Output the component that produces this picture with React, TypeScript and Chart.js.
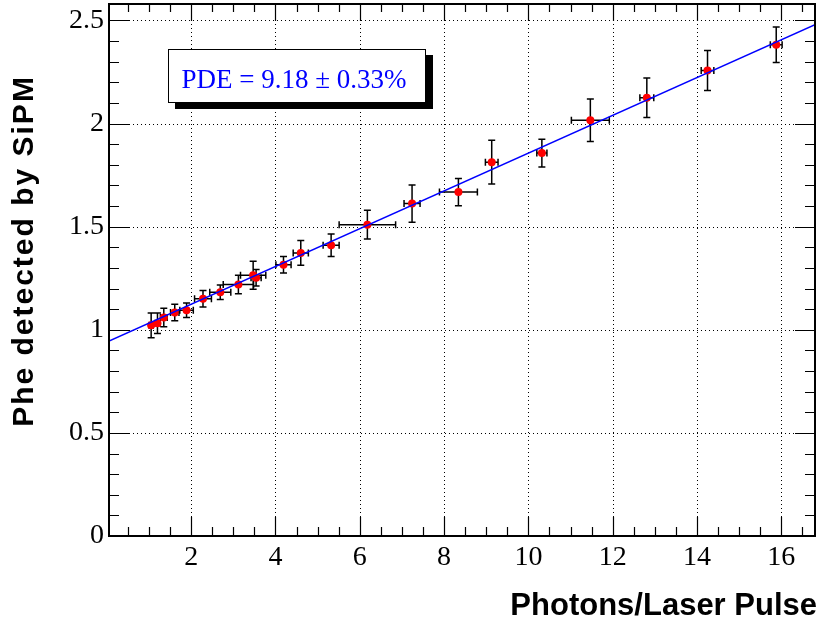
import React, { useEffect, useRef } from 'react';
import { Chart, registerables } from 'chart.js';

Chart.register(...registerables);

// ---- data ----
const photons = [1.05, 1.2, 1.35, 1.61, 1.89, 2.28, 2.69, 3.12, 3.47, 3.54, 4.19, 4.6, 5.32, 6.18, 7.24, 8.34, 9.13, 10.32, 11.47, 12.81, 14.25, 15.88];
const phe = [1.022, 1.032, 1.06, 1.084, 1.095, 1.15, 1.182, 1.22, 1.265, 1.252, 1.316, 1.373, 1.41, 1.51, 1.612, 1.668, 1.813, 1.857, 2.016, 2.125, 2.258, 2.382];
const photonsErr = [0.05, 0.06, 0.08, 0.1, 0.16, 0.2, 0.25, 0.36, 0.3, 0.12, 0.18, 0.18, 0.19, 0.67, 0.19, 0.45, 0.15, 0.12, 0.45, 0.165, 0.15, 0.14];
const pheErr = [0.06, 0.05, 0.045, 0.04, 0.035, 0.04, 0.035, 0.045, 0.068, 0.04, 0.04, 0.06, 0.055, 0.07, 0.09, 0.066, 0.106, 0.067, 0.103, 0.096, 0.097, 0.086];

const fitX = [0.05, 16.8];
const fitY = [0.945, 2.48];

const xMin = 0.05;
const xMax = 16.8;
const yMin = 0;
const yMax = 2.58;

const xMajorTicks = [2, 4, 6, 8, 10, 12, 14, 16];
const yMajorTicks = [0, 0.5, 1, 1.5, 2, 2.5];

const pdeLabel = 'PDE = 9.18 \u00B1 0.33%';
const xTitle = 'Photons/Laser Pulse';
const yTitle = 'Phe detected by SiPM';

// minor tick positions (0.5 on x, 0.1 on y)
const xMinorTicks: number[] = [];
for (let i = 1; i <= 33; i++) xMinorTicks.push(i / 2);
const yMinorTicks: number[] = [];
for (let i = 0; i <= 25; i++) yMinorTicks.push(i / 10);

const isMajor = (list: number[], v: number) => list.some((m) => Math.abs(m - v) < 1e-6);

const rootStyle = {
  id: 'rootStyle',
  beforeDatasetsDraw(chart: any) {
    const { ctx, chartArea: a, scales } = chart;
    const x = scales.x;
    const y = scales.y;
    ctx.save();
    // dotted grid
    ctx.strokeStyle = '#000';
    ctx.lineWidth = 1;
    ctx.setLineDash([1, 3]);
    ctx.beginPath();
    for (const v of xMajorTicks) {
      const px = Math.round(x.getPixelForValue(v)) + 0.5;
      ctx.moveTo(px, a.top);
      ctx.lineTo(px, a.bottom);
    }
    for (const v of yMajorTicks) {
      if (v === 0) continue;
      const py = Math.round(y.getPixelForValue(v)) + 0.5;
      ctx.moveTo(a.left, py);
      ctx.lineTo(a.right, py);
    }
    ctx.stroke();
    ctx.setLineDash([]);

    // error bars
    ctx.strokeStyle = '#000';
    ctx.lineWidth = 1.5;
    const cap = 3.5;
    ctx.beginPath();
    photons.forEach((xv, i) => {
      const cx = x.getPixelForValue(xv);
      const cy = y.getPixelForValue(phe[i]);
      const x0 = x.getPixelForValue(xv - photonsErr[i]);
      const x1 = x.getPixelForValue(xv + photonsErr[i]);
      const y0 = y.getPixelForValue(phe[i] - pheErr[i]);
      const y1 = y.getPixelForValue(phe[i] + pheErr[i]);
      ctx.moveTo(x0, cy);
      ctx.lineTo(x1, cy);
      ctx.moveTo(cx, y0);
      ctx.lineTo(cx, y1);
      ctx.moveTo(x0, cy - cap);
      ctx.lineTo(x0, cy + cap);
      ctx.moveTo(x1, cy - cap);
      ctx.lineTo(x1, cy + cap);
      ctx.moveTo(cx - cap, y0);
      ctx.lineTo(cx + cap, y0);
      ctx.moveTo(cx - cap, y1);
      ctx.lineTo(cx + cap, y1);
    });
    ctx.stroke();
    ctx.restore();
  },
  afterDatasetsDraw(chart: any) {
    const { ctx, chartArea: a, scales } = chart;
    const x = scales.x;
    const y = scales.y;
    ctx.save();
    ctx.strokeStyle = '#000';
    ctx.lineWidth = 1.2;
    ctx.beginPath();
    for (const v of xMinorTicks) {
      if (v < xMin || v > xMax) continue;
      const px = Math.round(x.getPixelForValue(v)) + 0.5;
      const major = isMajor(xMajorTicks, v);
      const lb = major ? 19 : 9;
      const lt = major ? 17 : 8;
      ctx.moveTo(px, a.bottom);
      ctx.lineTo(px, a.bottom - lb);
      ctx.moveTo(px, a.top);
      ctx.lineTo(px, a.top + lt);
    }
    for (const v of yMinorTicks) {
      const py = Math.round(y.getPixelForValue(v)) + 0.5;
      const major = isMajor(yMajorTicks, v);
      const len = major ? 20 : 10;
      ctx.moveTo(a.left, py);
      ctx.lineTo(a.left + len, py);
      ctx.moveTo(a.right, py);
      ctx.lineTo(a.right - len, py);
    }
    ctx.stroke();
    // frame
    ctx.lineWidth = 2;
    ctx.strokeRect(a.left, a.top, a.right - a.left, a.bottom - a.top);
    ctx.restore();
  },
  afterDraw(chart: any) {
    const { ctx } = chart;
    ctx.save();
    ctx.fillStyle = '#000';
    // x title
    ctx.font = 'bold 31px "Liberation Sans", Arial, sans-serif';
    ctx.textAlign = 'right';
    ctx.textBaseline = 'alphabetic';
    ctx.fillText(xTitle, 817, 615);
    // y title
    ctx.translate(33, 251);
    ctx.rotate(-Math.PI / 2);
    ctx.font = 'bold 30px "Liberation Sans", Arial, sans-serif';
    try {
      (ctx as any).letterSpacing = '2px';
    } catch (e) {}
    ctx.textAlign = 'center';
    ctx.fillText(yTitle, 0, 0);
    ctx.restore();
  },
};

export default function App() {
  const canvasRef = useRef<HTMLCanvasElement | null>(null);

  useEffect(() => {
    const canvas = canvasRef.current;
    if (!canvas) return;
    const chart = new Chart(canvas, {
      data: {
        datasets: [
          {
            type: 'line',
            label: 'fit',
            data: fitX.map((v, i) => ({ x: v, y: fitY[i] })),
            borderColor: '#0000ff',
            borderWidth: 1.5,
            pointRadius: 0,
            fill: false,
            order: 0,
          } as any,
          {
            type: 'scatter',
            label: 'data',
            data: photons.map((v, i) => ({ x: v, y: phe[i] })),
            backgroundColor: '#ff0000',
            borderColor: '#ff0000',
            borderWidth: 0,
            pointRadius: 4,
            order: 1,
          } as any,
        ],
      },
      options: {
        animation: false,
        responsive: true,
        maintainAspectRatio: false,
        events: [],
        layout: { padding: { top: 3, right: 0, left: 0, bottom: 0 } },
        plugins: {
          legend: { display: false },
          tooltip: { enabled: false },
        },
        scales: {
          x: {
            type: 'linear',
            position: 'bottom',
            min: xMin,
            max: xMax,
            afterBuildTicks: (s: any) => {
              s.ticks = xMinorTicks.filter((v) => v >= xMin && v <= xMax).map((v) => ({ value: v }));
            },
            afterFit: (s: any) => {
              s.height = 90;
              s.paddingLeft = 0;
              s.paddingRight = 0;
            },
            ticks: {
              autoSkip: false,
              maxRotation: 0,
              minRotation: 0,
              padding: 5,
              color: '#000',
              font: { family: '"Liberation Serif", "Times New Roman", serif', size: 28 },
              callback: (v: any) => (isMajor(xMajorTicks, Number(v)) ? String(v) : ''),
            },
            grid: { display: false, drawTicks: false },
            border: { display: false },
          },
          y: {
            type: 'linear',
            position: 'left',
            min: yMin,
            max: yMax,
            afterBuildTicks: (s: any) => {
              s.ticks = yMinorTicks.map((v) => ({ value: v }));
            },
            afterFit: (s: any) => {
              s.width = 109;
              s.paddingTop = 0;
              s.paddingBottom = 0;
            },
            ticks: {
              autoSkip: false,
              padding: 5,
              color: '#000',
              font: { family: '"Liberation Serif", "Times New Roman", serif', size: 28 },
              callback: (v: any) => {
                const n = Number(v);
                return isMajor(yMajorTicks, n) ? String(Math.round(n * 10) / 10) : '';
              },
            },
            grid: { display: false, drawTicks: false },
            border: { display: false },
          },
        },
      } as any,
      plugins: [rootStyle],
    });
    return () => chart.destroy();
  }, []);

  return (
    <div style={{ position: 'absolute', left: 0, top: 0, width: 819, height: 626, background: '#fff' }}>
      <canvas ref={canvasRef} width={819} height={626} />
      <div
        style={{
          position: 'absolute',
          left: 168,
          top: 49,
          width: 258,
          height: 54,
          boxSizing: 'border-box',
          border: '1px solid #000',
          background: '#fff',
          boxShadow: '7px 6px 0 #000',
          display: 'flex',
          alignItems: 'center',
          justifyContent: 'center',
          paddingTop: 7,
          paddingRight: 6,
          fontFamily: '"Liberation Serif", "Times New Roman", serif',
          fontSize: 27,
          color: '#0000ff',
          whiteSpace: 'nowrap',
        }}
      >
        {pdeLabel}
      </div>
    </div>
  );
}
